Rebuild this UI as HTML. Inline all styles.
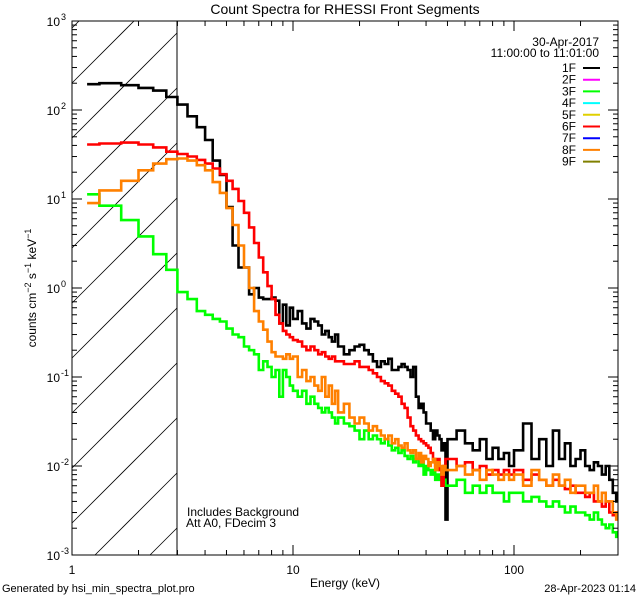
<!DOCTYPE html>
<html><head><meta charset="utf-8">
<style>
html,body{margin:0;padding:0;background:#fff;width:640px;height:600px;overflow:hidden;}
svg{display:block;font-family:"Liberation Sans",sans-serif;}
</style></head>
<body>
<svg id="chart" width="640" height="600" viewBox="0 0 640 600" xmlns="http://www.w3.org/2000/svg">
<rect x="0" y="0" width="640" height="600" fill="#fff"/>
<text x="345" y="14" font-size="14" text-anchor="middle">Count Spectra for RHESSI Front Segments</text>
<defs><clipPath id="plotclip"><rect x="72" y="21" width="546" height="534"/></clipPath></defs>
<g id="hatch"></g>
<line x1="177" y1="21" x2="177" y2="555" stroke="#000" stroke-width="1"/>
<g id="series" clip-path="url(#plotclip)"></g>
<rect x="72" y="21" width="546" height="534" fill="none" stroke="#000" stroke-width="1"/>
<g id="axes"></g>
<text transform="translate(36,288) rotate(-90)" font-size="12" text-anchor="middle">counts cm<tspan dy="-5" font-size="9">−2</tspan><tspan dy="5"> s</tspan><tspan dy="-5" font-size="9">−1</tspan><tspan dy="5"> keV</tspan><tspan dy="-5" font-size="9">−1</tspan></text>
<text x="345" y="587" font-size="12" text-anchor="middle">Energy (keV)</text>
<text x="2" y="592" font-size="11">Generated by hsi_min_spectra_plot.pro</text>
<text x="636" y="592" font-size="11" text-anchor="end">28-Apr-2023 01:14</text>
<text x="187" y="516" font-size="12">Includes Background</text>
<text x="186" y="527" font-size="12">Att A0, FDecim 3</text>
<text x="599" y="46" font-size="12" text-anchor="end">30-Apr-2017</text>
<text x="599" y="57" font-size="12" text-anchor="end">11:00:00 to 11:01:00</text>
<g id="legend"></g>
</svg>
<script>
const edges=[1.17,1.33,1.67,2,2.33,2.67,3,3.33,3.67,4,4.33,4.67,5,5.33,5.67,6,6.33,6.67,7,7.33,7.67,8,8.33,8.67,9,9.33,9.67,10,
10.5,11,11.5,12,12.5,13,13.5,14,14.5,15,15.5,16,
17,18,19,20,21,22,23,24,25,26,27,28,29,30,31,32,33,34,35,36,37,38,39,40,41,42,43,44,45,46,47,48,49,50,
55,60,65,70,75,80,85,90,95,100,
110,120,130,140,150,160,170,180,190,200,210,220,230,240,250,260,270,280,290,300];
const seg1F=[195,200,190,177,165,140,115,85,64,46,27,18.6,8.1,3.0,1.7,1.7,0.85,1.0,0.78,0.75,0.75,0.78,0.72,0.4,0.65,0.38,0.6,
0.45,0.55,0.4,0.35,0.45,0.42,0.38,0.3,0.33,0.28,0.25,0.3,
0.22,0.18,0.2,0.22,0.23,0.2,0.18,0.15,0.13,0.15,0.14,0.16,0.12,0.12,0.13,0.14,0.13,0.12,0.1,0.13,0.06,0.045,0.05,0.04,0.03,0.03,0.025,0.02,0.025,0.022,0.02,0.015,0.018,0.0025,
0.02,0.025,0.018,0.015,0.02,0.012,0.016,0.012,0.014,0.01,
0.015,0.03,0.012,0.02,0.01,0.025,0.012,0.018,0.01,0.012,0.015,0.01,0.009,0.011,0.01,0.008,0.01,0.007,0.005,0.004];
const seg3F=[11.3,8.4,5.8,3.8,2.4,1.6,0.9,0.75,0.55,0.5,0.45,0.42,0.35,0.3,0.28,0.22,0.2,0.18,0.12,0.15,0.13,0.1,0.12,0.06,0.12,0.1,0.08,
0.07,0.06,0.07,0.05,0.06,0.05,0.045,0.04,0.045,0.04,0.035,0.03,
0.035,0.03,0.028,0.025,0.02,0.025,0.02,0.022,0.02,0.018,0.02,0.017,0.015,0.016,0.014,0.015,0.013,0.012,0.013,0.011,0.012,0.01,0.011,0.008,0.01,0.009,0.008,0.009,0.007,0.008,0.007,0.006,0.007,0.006,
0.006,0.007,0.005,0.006,0.005,0.006,0.005,0.005,0.004,0.005,
0.005,0.004,0.0045,0.004,0.0035,0.004,0.0035,0.003,0.0035,0.003,0.003,0.0028,0.0025,0.003,0.0025,0.0022,0.002,0.0022,0.0018,0.0016];
const seg6F=[41,42,43,41,38,34,32,30,27.5,25,22,19,16,13,9.5,7,4.8,3.2,2.2,1.5,1.05,0.75,0.5,0.4,0.33,0.3,0.28,
0.26,0.25,0.22,0.2,0.22,0.2,0.18,0.19,0.17,0.16,0.17,0.15,
0.15,0.14,0.14,0.15,0.13,0.13,0.12,0.11,0.1,0.09,0.085,0.08,0.07,0.065,0.06,0.05,0.045,0.035,0.028,0.025,0.022,0.02,0.019,0.018,0.017,0.016,0.014,0.012,0.01,0.012,0.009,0.006,0.01,0.012,
0.012,0.01,0.011,0.009,0.01,0.008,0.009,0.008,0.009,0.008,
0.009,0.007,0.008,0.007,0.006,0.007,0.006,0.0055,0.006,0.005,0.005,0.0045,0.005,0.004,0.004,0.0035,0.004,0.003,0.0028,0.003];
const seg8F=[9,12.5,16,21,25,28,28.5,27,24,21,15.5,11.7,7.9,5.1,3.0,1.7,1.0,0.55,0.42,0.34,0.25,0.19,0.17,0.17,0.16,0.18,0.16,
0.17,0.1,0.12,0.09,0.1,0.08,0.07,0.1,0.06,0.08,0.05,0.07,
0.04,0.05,0.035,0.03,0.035,0.03,0.025,0.028,0.025,0.022,0.02,0.022,0.018,0.02,0.017,0.016,0.018,0.015,0.014,0.015,0.012,0.014,0.011,0.013,0.012,0.01,0.011,0.012,0.009,0.011,0.01,0.008,0.01,0.009,
0.009,0.01,0.008,0.009,0.007,0.009,0.008,0.007,0.008,0.007,
0.008,0.006,0.009,0.007,0.006,0.008,0.006,0.007,0.005,0.006,0.006,0.005,0.005,0.006,0.004,0.005,0.004,0.004,0.003,0.0025];
const legendLabels=["1F","2F","3F","4F","5F","6F","7F","8F","9F"];
const legendColors=["#000000","#ff00ff","#00ff00","#00ffff","#e0d000","#ff0000","#0000ff","#ff8000","#808000"];
const yTickExps=[-3,-2,-1,0,1,2,3];
const xTickLabels=["1","10","100"];

const NS="http://www.w3.org/2000/svg";
const X0=72,X1=618,XDEC=221,Y0=555,YDEC=89,XH=177,YT=21;
function xs(e){return X0+XDEC*Math.log10(e);}
function ys(v){return Y0-YDEC*(Math.log10(v)+3);}
function mk(t,a,p){const el=document.createElementNS(NS,t);for(const k in a)el.setAttribute(k,a[k]);(p||document.getElementById('chart')).appendChild(el);return el;}

// hatch lines (slope -1), clipped manually to region [72,177]x[21,555]
const hg=document.getElementById('hatch');
for(let k=-3;k<12;k++){
  const c=83+55*k; // y at x=72 ; line: y = c - (x-72)
  let xa=X0, ya=c;
  if(ya>Y0){xa=X0+(ya-Y0);ya=Y0;}
  let xb=XH, yb=c-(XH-X0);
  if(yb<YT){xb=X0+(c-YT);yb=YT;}
  if(xa>=xb||ya<YT||yb>Y0)continue;
  const l=mk('line',{x1:xa,y1:ya,x2:xb,y2:yb,stroke:'#000','stroke-width':0.8},hg);
  
  
}

const sg=document.getElementById('series');
function draw(vals,color,name){
  let d='';
  for(let i=0;i<vals.length;i++){
    const xa=xs(edges[i]),xb=xs(edges[i+1]),y=ys(vals[i]);
    d+=(i===0?'M':'L')+xa.toFixed(1)+','+y.toFixed(1)+'L'+xb.toFixed(1)+','+y.toFixed(1);
  }
  const p=mk('path',{d:d,fill:'none',stroke:color,'stroke-width':2.6,'stroke-linejoin':'miter'},sg);
  
  
}
draw(seg1F,'#000000','series-1f');
draw(seg3F,'#00ff00','series-3f');
draw(seg6F,'#ff0000','series-6f');
draw(seg8F,'#ff8000','series-8f');

const ag=document.getElementById('axes');
for(let dcd=0;dcd<3;dcd++){
  for(let m=1;m<10;m++){
    const e=Math.pow(10,dcd)*m; if(e>295)break;
    const x=xs(e); const len=m===1?10:5;
    let t=mk('line',{x1:x,y1:Y0,x2:x,y2:Y0-len,stroke:'#000'},ag);
    
    
    t=mk('line',{x1:x,y1:21,x2:x,y2:21+len,stroke:'#000'},ag);
    
    
  }
}
xTickLabels.forEach((s,i)=>{
  const t=mk('text',{x:xs(Math.pow(10,i)),y:574,'font-size':12,'text-anchor':'middle'},ag);
  t.textContent=s;
  
  
});
yTickExps.forEach(ex=>{
  for(let m=1;m<10;m++){
    if(ex===3&&m>1)break;
    const y=ys(m*Math.pow(10,ex)); const len=m===1?10:5;
    let t=mk('line',{x1:X0,y1:y,x2:X0+len,y2:y,stroke:'#000'},ag);
    
    
    t=mk('line',{x1:X1,y1:y,x2:X1-len,y2:y,stroke:'#000'},ag);
    
    
  }
  const y=ys(Math.pow(10,ex));
  const t=mk('text',{x:60,y:y+5,'font-size':12,'text-anchor':'end'},ag);
  t.textContent='10';
  
  
  const s=mk('text',{x:61,y:y-1,'font-size':9},ag);
  s.textContent=String(ex);
  
  
});

const lg=document.getElementById('legend');
legendLabels.forEach((lab,i)=>{
  const y=68+11.7*i;
  const t=mk('text',{x:576,y:y+4,'font-size':12,'text-anchor':'end'},lg);
  t.textContent=lab;
  
  
  const l=mk('line',{x1:583,y1:y,x2:600,y2:y,stroke:legendColors[i],'stroke-width':2},lg);
  
  
});
</script>
</body></html>
